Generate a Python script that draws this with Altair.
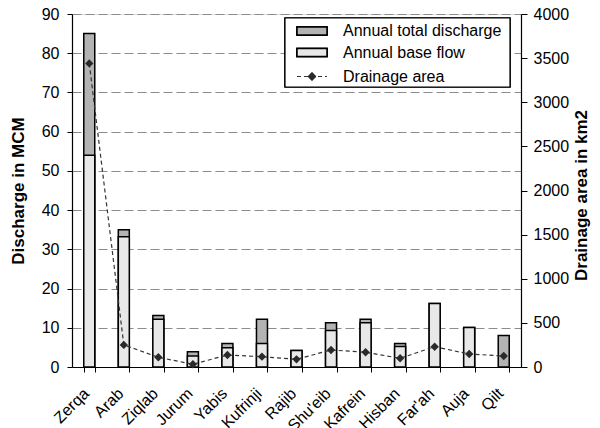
import altair as alt
import pandas as pd

rivers = ["Zerqa", "Arab", "Ziqlab", "Jurum", "Yabis", "Kufrinji", "Rajib",
          "Shu'eib", "Kafrein", "Hisban", "Far'ah", "Auja", "Qilt"]
total_discharge = [85, 35, 13.1, 3.9, 6.0, 12.2, 4.2, 11.3, 12.2, 6.0, 16.2, 10.1, 8.0]
base_flow = [54, 33.2, 12.2, 2.8, 4.9, 6.0, 4.2, 9.3, 11.3, 5.2, 16.2, 10.1, None]
drainage_area = [3440, 250, 110, 31, 136, 117, 87, 193, 167, 99, 230, 147, 125]

legend_labels = ["Annual total discharge", "Annual base flow", "Drainage area"]

df = pd.DataFrame({"river": rivers, "total": total_discharge,
                   "base": base_flow, "area": drainage_area})

FONT = "Liberation Sans"

x_axis = alt.Axis(labelAngle=315, labelFontSize=16, labelColor="black",
                  labelFont=FONT, tickBand="extent", tickColor="black",
                  tickSize=5, domainColor="black", domainWidth=1.2,
                  labelPadding=13, labelOffset=-9)
x_scale = alt.Scale(paddingInner=0.68, paddingOuter=0.34)

y_left = alt.Scale(domain=[0, 90])
left_axis = alt.Axis(title="Discharge in MCM", values=list(range(0, 91, 10)),
                     grid=True, gridDash=[9, 4], gridColor="#8c8c8c", gridWidth=1.2,
                     labelFontSize=16, labelFont=FONT, labelColor="black",
                     titleFont=FONT, titleFontSize=17, titleFontWeight="bold",
                     titleColor="black", tickColor="black", tickSize=5,
                     labelPadding=8, titlePadding=14, domainColor="black",
                     domainWidth=1.2, labelOverlap=False)

bars_total = alt.Chart(df).mark_bar(fill="#b3b3b3", stroke="black", strokeWidth=1.5,
                                    size=11).encode(
    x=alt.X("river:N", sort=rivers, title=None, scale=x_scale, axis=x_axis),
    y=alt.Y("total:Q", scale=y_left, axis=left_axis),
)
bars_base = alt.Chart(df).mark_bar(fill="#e8e8e8", stroke="black", strokeWidth=1.5,
                                   size=11).encode(
    x=alt.X("river:N", sort=rivers, title=None, scale=x_scale, axis=x_axis),
    y=alt.Y("base:Q", scale=y_left, axis=left_axis),
)

right_axis = alt.Axis(title="Drainage area in km2", orient="right",
                      values=list(range(0, 4001, 500)), grid=False, format="d",
                      labelFontSize=16, labelFont=FONT, labelColor="black",
                      titleFont=FONT, titleFontSize=17, titleFontWeight="bold",
                      titleColor="black", titleAngle=270, tickColor="black",
                      tickSize=6, labelPadding=6, titlePadding=22, titleY=181,
                      domainColor="black", domainWidth=1.2, labelOverlap=False)
y_right = alt.Scale(domain=[0, 4000])

line = alt.Chart(df).mark_line(color="#333333", strokeDash=[4, 3], strokeWidth=1.2).encode(
    x=alt.X("river:N", sort=rivers, title=None, scale=x_scale, axis=x_axis),
    y=alt.Y("area:Q", scale=y_right, axis=right_axis),
)
points = alt.Chart(df).mark_point(shape="diamond", filled=True, color="#2a2a2a",
                                  size=70, opacity=1).encode(
    x=alt.X("river:N", sort=rivers, title=None, scale=x_scale, axis=x_axis),
    y=alt.Y("area:Q", scale=y_right, axis=right_axis),
)

left_layer = alt.layer(bars_total, bars_base)
right_layer = alt.layer(line, points)

# legend (built from legend_labels)
leg_df = pd.DataFrame({"label": legend_labels})
leg_box = alt.Chart(leg_df).mark_rect(fill="white", stroke="black", strokeWidth=1.2).encode(
    x=alt.value(213), x2=alt.value(438), y=alt.value(4), y2=alt.value(73))
leg_r1 = alt.Chart(leg_df).mark_rect(fill="#b3b3b3", stroke="black", strokeWidth=1.5).encode(
    x=alt.value(225), x2=alt.value(255), y=alt.value(13), y2=alt.value(21))
leg_r2 = alt.Chart(leg_df).mark_rect(fill="#e8e8e8", stroke="black", strokeWidth=1.5).encode(
    x=alt.value(225), x2=alt.value(255), y=alt.value(34.5), y2=alt.value(42.5))
leg_line = alt.Chart(leg_df).mark_rule(color="#333333", strokeDash=[4, 3], strokeWidth=1.2).encode(
    x=alt.value(225), x2=alt.value(255), y=alt.value(62.5))
leg_pt = alt.Chart(leg_df).mark_point(shape="diamond", filled=True, color="#2a2a2a",
                                      size=70, opacity=1).encode(
    x=alt.value(240), y=alt.value(62.5))
leg_text = alt.Chart(leg_df).transform_window(
    idx="row_number()"
).transform_calculate(
    ypos="datum.idx == 1 ? 17 : (datum.idx == 2 ? 39 : 62.5)"
).mark_text(align="left", baseline="middle", fontSize=16, font=FONT, color="black").encode(
    x=alt.value(271), y=alt.Y("ypos:Q", scale=None), text="label:N")

legend = alt.layer(leg_box, leg_r1, leg_r2, leg_line, leg_pt, leg_text)

chart = alt.layer(left_layer, right_layer, legend).resolve_scale(
    y="independent"
).properties(
    width=449, height=353,
    autosize=alt.AutoSizeParams(type="none"),
    padding={"left": 64, "top": 6, "right": 71, "bottom": 61},
).configure_view(stroke=None).configure(background="white")

chart.save("out.html", embed_options={"renderer": "svg", "actions": False})
